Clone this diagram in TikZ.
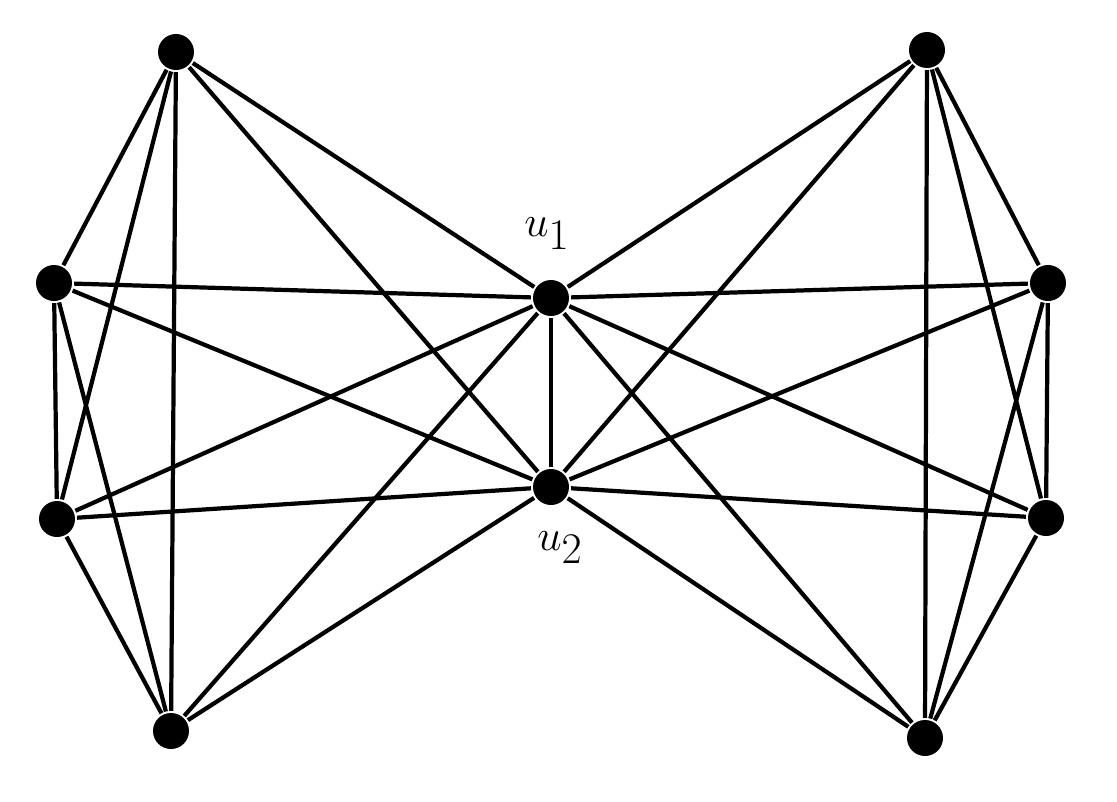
\documentclass[tikz,border=0pt]{standalone}
\begin{document}
\begin{tikzpicture}[x=0.02cm,y=-0.02cm,
  vtx/.style={circle,fill=black,inner sep=0pt,minimum size=0.72cm},
  lbl/.style={font=\fontsize{38pt}{44pt}\selectfont},
  every path/.style={line width=2.4pt}]
\useasboundingbox (0,0) rectangle (1117,802);
\node[vtx] (L1) at (176,52) {};
\node[vtx] (L2) at (54,283) {};
\node[vtx] (L3) at (57,519) {};
\node[vtx] (L4) at (171,731) {};
\node[vtx] (R1) at (927,50) {};
\node[vtx] (R2) at (1048,283) {};
\node[vtx] (R3) at (1046,518) {};
\node[vtx] (R4) at (925,738) {};
\node[vtx] (u1) at (551,298) {};
\node[vtx] (u2) at (551,487) {};
\node[lbl] (t1) at (547,234) {$u_1$};
\node[lbl] (t2) at (560,548) {$u_2$};
\foreach \a/\b in {L1/L2,L1/L3,L1/L4,L2/L3,L2/L4,L3/L4,R1/R2,R1/R3,R1/R4,R2/R3,R2/R4,R3/R4,u1/u2}
  \draw (\a) -- (\b);
\foreach \a in {L1,L2,L3,L4,R1,R2,R3,R4}{
  \draw (\a) -- (u1); \draw (\a) -- (u2);}
\end{tikzpicture}
\end{document}
